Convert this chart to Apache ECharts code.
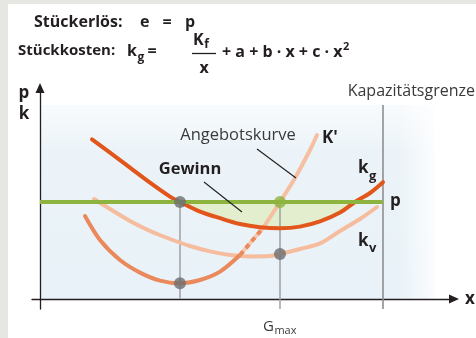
<!DOCTYPE html>
<html>
<head>
<meta charset="utf-8">
<script src="https://cdn.jsdelivr.net/npm/echarts@6/dist/echarts.min.js"></script>
<style>
  html, body { margin: 0; padding: 0; background: #fff; }
  #chart { width: 476px; height: 338px; }
</style>
</head>
<body>
<div id="chart"></div>
<script>
// Preis / Stückerlös
const P = 4.85
// Gewinnschwelle, Gewinnmaximum, Kapazitätsgrenze
const breakEvenX = 3.5
const gMaxX = 6.0
const capacityX = 8.575
const profitEndX = 7.875
const boxTop = 9.7

// Stückkosten k_g
const kgCurve = [[1.3, 7.98], [1.75, 7.32], [2.25, 6.57], [2.75, 5.82], [3.25, 5.12], [3.5, 4.85], [4.0, 4.37], [4.5, 4.04], [5.0, 3.75], [5.5, 3.59], [6.0, 3.54], [6.5, 3.62], [7.0, 3.88], [7.5, 4.32], [7.875, 4.85], [8.25, 5.3], [8.575, 5.84]]
// variable Stückkosten k_v
const kvCurve = [[1.35, 5.0], [1.75, 4.5], [2.25, 3.9], [2.75, 3.4], [3.25, 3.0], [3.75, 2.65], [4.25, 2.38], [4.75, 2.2], [5.25, 2.13], [5.75, 2.15], [6.0, 2.25], [6.5, 2.5], [7.0, 2.78], [7.5, 3.4], [8.0, 4.0], [8.425, 4.6]]
// Grenzkosten K'
const kLower = [[1.125, 4.15], [1.5, 2.95], [2.0, 1.95], [2.5, 1.32], [3.0, 0.92], [3.5, 0.79], [4.0, 0.95], [4.5, 1.37], [5.0, 2.2]]
const kDashed = [[5.0, 2.2], [5.575, 3.55]]
const kUpper = [[5.575, 3.55], [6.0, 4.85], [6.375, 6.05], [6.75, 7.45], [6.925, 8.2]]
// Punkte
const grayDots = [[breakEvenX, P], [breakEvenX, 0.79], [gMaxX, 2.25]]
const greenDot = [[gMaxX, P]]

const profitArea = kgCurve.filter(d => d[0] >= breakEvenX && d[0] <= profitEndX)

const FONT = 'Open Sans'
const DARK = '#231f20'
const GRAY_TXT = '#3a3a3a'

let chart = echarts.init(document.getElementById('chart'))

// Textbreite messen (für Indizes / Exponenten)
const ctx = document.createElement('canvas').getContext('2d')
function measure(s, size, bold) {
  ctx.font = (bold ? 'bold ' : '') + size + 'px "' + FONT + '"'
  return ctx.measureText(s).width
}

function txt(x, y, s, size, bold, color, align) {
  return {
    type: 'text',
    z: 100,
    style: {
      x: x, y: y, text: s,
      fontFamily: FONT,
      fontSize: size,
      fontWeight: bold ? 'bold' : 'normal',
      fill: color || DARK,
      align: align || 'left',
      verticalAlign: 'middle'
    }
  }
}

// Text mit Index/Exponent direkt dahinter
function withIndex(x, y, s, size, idx, idxSize, dy, bold, color) {
  let w = measure(s, size, bold)
  return [txt(x, y, s, size, bold, color), txt(x + w + 0.5, y + dy, idx, idxSize, bold, color)]
}

function line(x1, y1, x2, y2, color, w) {
  return {
    type: 'line', z: 100,
    shape: { x1: x1, y1: y1, x2: x2, y2: y2 },
    style: { stroke: color, lineWidth: w }
  }
}

let option = {
  animation: false,
  backgroundColor: '#fff',
  grid: { left: 32, right: 22, top: 88, bottom: 29 },
  xAxis: {
    type: 'value', min: -0.2, max: 10.35,
    axisLine: { show: true, onZero: true, symbol: ['none', 'triangle'], symbolSize: [9, 10], lineStyle: { color: DARK, width: 1.3 } },
    axisTick: { show: false }, axisLabel: { show: false }, splitLine: { show: false }
  },
  yAxis: {
    type: 'value', min: -0.5, max: 10.55,
    axisLine: { show: true, onZero: true, symbol: ['none', 'triangle'], symbolSize: [9, 10], lineStyle: { color: DARK, width: 1.3 } },
    axisTick: { show: false }, axisLabel: { show: false }, splitLine: { show: false }
  },
  graphic: [
    // Rahmen
    { type: 'rect', z: -20, shape: { x: 0, y: 0, width: 8, height: 338 }, style: { fill: '#e6e6e2' } },
    { type: 'rect', z: -20, shape: { x: 0, y: 0, width: 476, height: 4 }, style: { fill: '#e6e6e2' } },
    // Hintergrund Diagramm
    {
      type: 'rect', z: -10, shape: { x: 40, y: 105, width: 394, height: 194 },
      style: { fill: new echarts.graphic.LinearGradient(0, 0, 0, 1, [
        { offset: 0, color: '#f8fbfd' }, { offset: 0.25, color: '#ebf3f8' }, { offset: 1, color: '#e9f2f8' }
      ]) }
    },
    {
      type: 'rect', z: -9, shape: { x: 398, y: 105, width: 36, height: 194 },
      style: { fill: new echarts.graphic.LinearGradient(0, 0, 1, 0, [
        { offset: 0, color: 'rgba(255,255,255,0)' }, { offset: 1, color: 'rgba(255,255,255,0.8)' }
      ]) }
    },
    // Formeln
    txt(34, 22, 'Stückerlös:', 16, true),
    txt(140, 22, 'e', 16, true),
    txt(167, 22, '=', 16, true, DARK, 'center'),
    txt(185, 22, 'p', 16, true),
    txt(18, 51, 'Stückkosten:', 15, true),
    ...withIndex(127, 51, 'k', 16, 'g', 12, 7, true),
    txt(152, 51, '=', 16, true, DARK, 'center'),
    ...withIndex(193, 40, 'K', 16, 'f', 12, 5, true),
    line(192, 53.5, 216, 53.5, DARK, 1.3),
    txt(204, 68, 'x', 16, true, DARK, 'center'),
    ...withIndex(222, 52, '+ a + b · x + c · x', 16, '2', 11, -5, true),
    // Achsen
    txt(24, 93, 'p', 17, true, DARK, 'center'),
    txt(24, 114, 'k', 17, true, DARK, 'center'),
    txt(470, 299, 'x', 17, true, DARK, 'center'),
    txt(475, 91, 'Kapazitätsgrenze', 16, false, GRAY_TXT, 'right'),
    ...withIndex(263, 327, 'G', 15, 'max', 11, 4, false, GRAY_TXT),
    // Beschriftungen
    txt(238, 135, 'Angebotskurve', 16.5, false, GRAY_TXT, 'center'),
    line(257, 149, 296, 178, DARK, 1.1),
    txt(190, 169, 'Gewinn', 16.5, true, DARK, 'center'),
    line(204, 182, 242, 212, DARK, 1.1),
    txt(322, 138, "K'", 17, true),
    ...withIndex(358, 168, 'k', 17, 'g', 13, 8, true),
    txt(390, 201, 'p', 17, true),
    ...withIndex(358, 241, 'k', 17, 'v', 13, 7, true)
  ],
  series: [
    // Hilfslinien
    {
      type: 'line', data: [[breakEvenX, P], [breakEvenX, 0]], symbol: 'none',
      lineStyle: { color: '#9a9b9d', width: 1.4 }, z: 1
    },
    {
      type: 'line', data: [[gMaxX, P], [gMaxX, -0.5]], symbol: 'none',
      lineStyle: { color: '#9a9b9d', width: 1.4 }, z: 1
    },
    {
      type: 'line', data: [[capacityX, boxTop], [capacityX, -0.5]], symbol: 'none',
      lineStyle: { color: '#8e8f91', width: 1.6 }, z: 1
    },
    // Gewinnfläche
    {
      type: 'line', data: profitArea, smooth: 0.3, symbol: 'none',
      lineStyle: { width: 0 },
      areaStyle: { origin: P, color: '#e2eecd', opacity: 1 }, z: 1
    },
    // k_v
    {
      type: 'line', data: kvCurve, smooth: 0.3, symbol: 'none',
      lineStyle: { color: '#f5bc9e', width: 4, cap: 'round' }
    },
    // K' unten
    {
      type: 'line', data: kLower, smooth: 0.3, symbol: 'none',
      lineStyle: { color: '#e9895c', width: 4, cap: 'round' }
    },
    // K' gestrichelt
    {
      type: 'line', data: kDashed, symbol: 'none',
      lineStyle: { color: '#f7c8ae', width: 4 }
    },
    {
      type: 'line', data: kDashed, symbol: 'none',
      lineStyle: { color: '#e9895c', width: 4, type: [5, 4] }
    },
    // K' oben (Angebotskurve)
    {
      type: 'line', data: kUpper, smooth: 0.3, symbol: 'none',
      lineStyle: { color: '#f6bfa2', width: 4, cap: 'round' }
    },
    // k_g
    {
      type: 'line', data: kgCurve, smooth: 0.3, symbol: 'none',
      lineStyle: { color: '#e2561c', width: 4, cap: 'round' }
    },
    // p
    {
      type: 'line', data: [[0, P], [capacityX, P]], symbol: 'none',
      lineStyle: { color: '#8cb43f', width: 4 }
    },
    // Punkte
    {
      type: 'scatter', data: grayDots, symbolSize: 12,
      itemStyle: { color: '#6d6e71' }, z: 5
    },
    {
      type: 'scatter', data: greenDot, symbolSize: 12,
      itemStyle: { color: '#8cb43f' }, z: 5
    }
  ]
}

chart.setOption(option)
</script>
</body>
</html>
